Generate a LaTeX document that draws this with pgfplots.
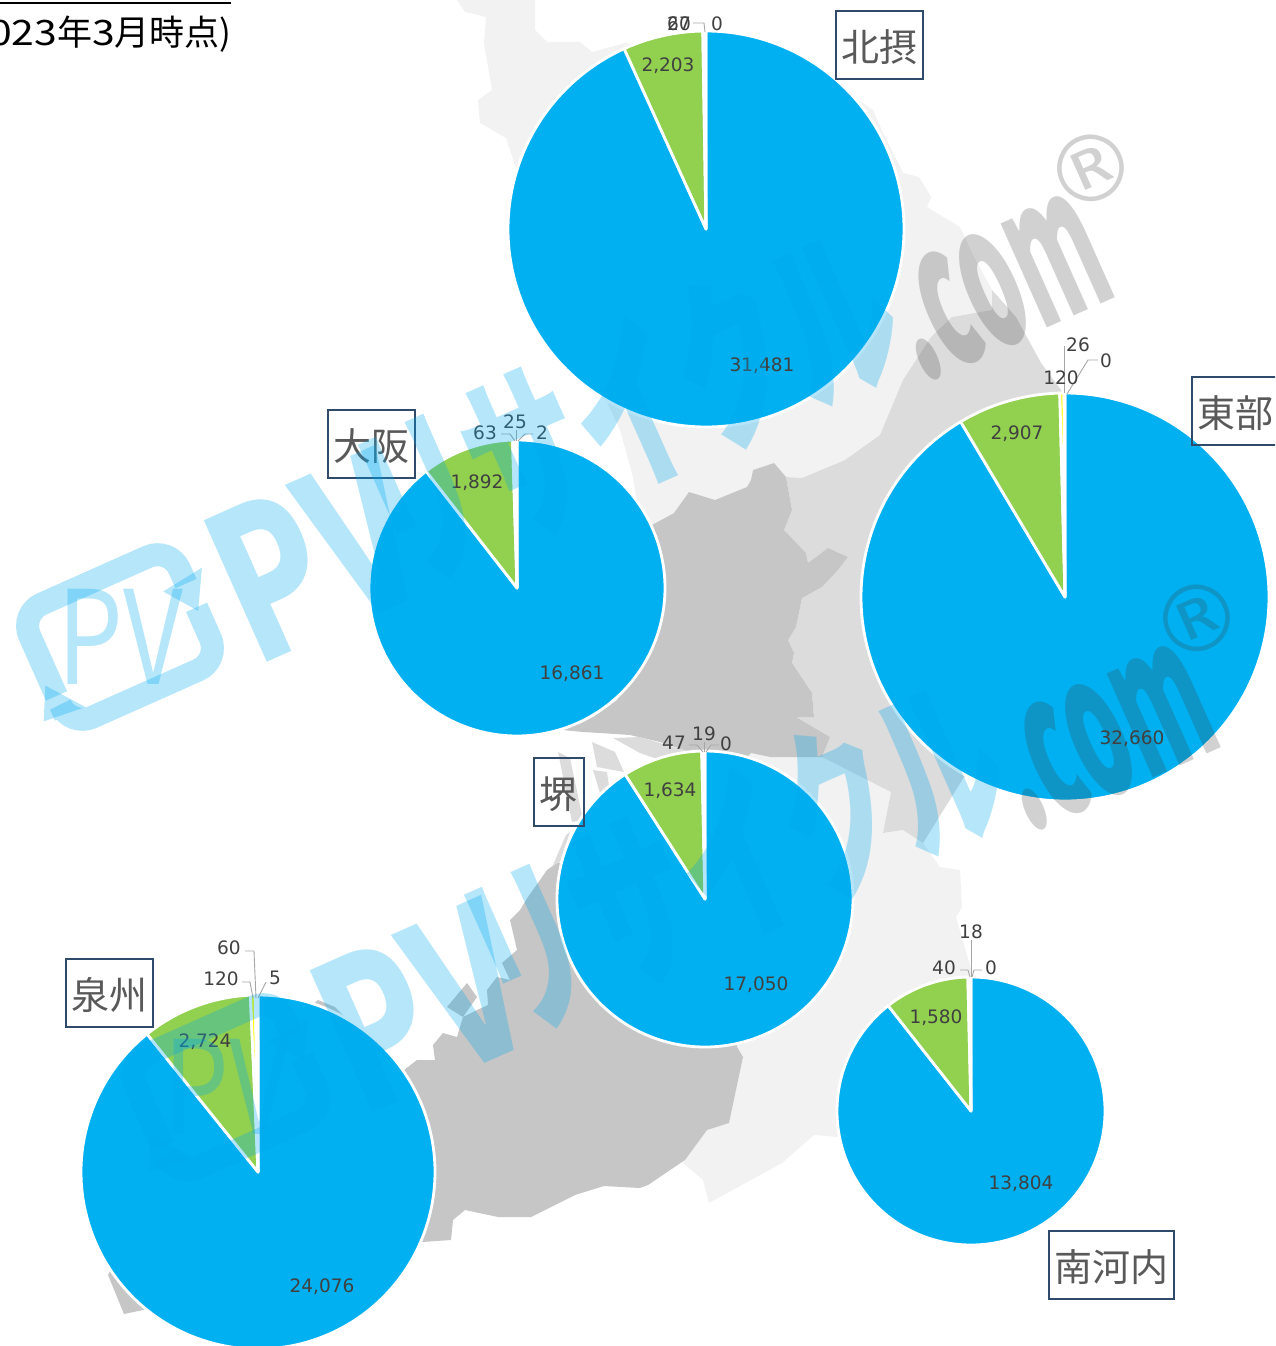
\documentclass[border=0pt]{standalone}
\usepackage{fontspec}
\usepackage{pgfplots}
\pgfplotsset{compat=1.18}
\setmainfont{DejaVu Sans}
\newfontfamily\cjk{Noto Sans CJK JP}
\definecolor{pieblue}{HTML}{00B0F0}
\definecolor{piegreen}{HTML}{92D050}
\definecolor{pieyellow}{HTML}{FFFF00}
\definecolor{piefour}{HTML}{FFFFFF}
\definecolor{mapl}{HTML}{F2F2F2}
\definecolor{mapm}{HTML}{DCDCDC}
\definecolor{mapd}{HTML}{C6C6C6}
\definecolor{lbl}{HTML}{404040}
\definecolor{boxc}{HTML}{2F4A6A}
\definecolor{wmb}{HTML}{00A8EE}
\definecolor{wmg}{HTML}{404040}
\newcount\kk
\newcommand{\slice}[6]{%
  \pgfmathsetmacro\spn{#5-#4}%
  \pgfmathtruncatemacro\nsteps{max(1,ceil(\spn/1.5))}%
  \xdef\pts{(#1,#2)}%
  \kk=0
  \loop
    \pgfmathsetmacro\aa{#4+\spn*(\the\kk/\nsteps)}%
    \pgfmathsetmacro\xx{#1+#3*sin(\aa)}%
    \pgfmathsetmacro\yy{#2-#3*cos(\aa)}%
    \xdef\pts{\pts (\xx,\yy)}%
  \ifnum\kk<\nsteps \advance\kk by 1 \repeat
  \edef\tmp{\noexpand\addplot[fill=#6,draw=white,line width=2.8pt,line join=round] coordinates {\pts} -- cycle;}%
  \tmp
}
% cx cy r  values (clockwise from 12 o'clock)
\newcommand{\angleof}[2]{\pgfmathsetmacro#1{\the\dimexpr\numexpr(#2)*23592960/\tot\relax sp\relax}}
\newcommand{\piechart}[8]{%
  \edef\tot{\the\numexpr#4+#5+#6+#7+#8\relax}%
  \angleof\sA{#4}%
  \angleof\sB{#4+#5}%
  \angleof\sC{#4+#5+#6}%
  \angleof\sD{#4+#5+#6+#7}%
  \slice{#1}{#2}{#3}{0}{\sA}{pieblue}%
  \slice{#1}{#2}{#3}{\sA}{\sB}{piegreen}%
  \slice{#1}{#2}{#3}{\sB}{\sC}{pieyellow}%
  \slice{#1}{#2}{#3}{\sC}{\sD}{piefour}%
  \slice{#1}{#2}{#3}{\sD}{360}{pieblue}%
}
\newcommand{\vl}[3]{\node[text=lbl,font=\fontsize{18.5}{20}\selectfont,inner sep=0pt] at (#1,{#2+1}) {#3};}
\newcommand{\lead}[1]{\addplot[color=gray!70,line width=0.9pt] coordinates {#1};}
\newcommand{\regionbox}[5]{%
  \draw[boxc,line width=1.4pt] (#1,#2) rectangle (#3,#4);
  \node[text=black!65,font=\fontsize{38}{40}\selectfont\cjk,inner sep=0pt] at ({(#1+#3)/2},{(#2+#4)/2+2}) {#5};}
\newcommand{\logo}[2]{%
  \begin{scope}[shift={(#1,#2)},rotate=24]
    \draw[wmb,draw opacity=.29,line width=23pt,rounded corners=24pt,line cap=butt]
      (-82pt,-28pt) -- (-82pt,62pt) -- (82pt,62pt) -- (82pt,22pt);
    \fill[wmb,opacity=.29] (58pt,24pt) -- (103pt,30pt) -- (82pt,-8pt) -- cycle;
    \draw[wmb,draw opacity=.29,line width=23pt,rounded corners=24pt,line cap=butt]
      (82pt,-4pt) -- (82pt,-62pt) -- (-82pt,-62pt) -- (-82pt,-50pt);
    \fill[wmb,opacity=.29] (-60pt,-50pt) -- (-104pt,-46pt) -- (-88pt,-14pt) -- cycle;
    \node[text=wmb,text opacity=.29,inner sep=0pt] at (0pt,0pt) {\scalebox{.8}[1]{\fontsize{130}{130}\selectfont\cjk PV}};
  \end{scope}}
\newcommand{\wmark}[2]{%
  \begin{scope}[shift={(#1 pt,-#2 pt)}]
    \logo{120}{637}
    \node[anchor=base west,rotate=24,text=wmb,text opacity=.29,inner sep=0pt] at (255,668)
      {\scalebox{.72}[1]{\fontsize{208}{208}\selectfont\cjk\bfseries PV}};
    \node[anchor=base west,rotate=24,text=wmb,text opacity=.29,inner sep=0pt] at (399,589)
      {\scalebox{.6}[1]{\fontsize{190}{190}\selectfont\cjk\bfseries リサイクル}};
    \node[anchor=base west,rotate=24,text=wmg,text opacity=.24,inner sep=0pt] at (922,384)
      {\scalebox{.44}[1]{\fontsize{200}{200}\selectfont\cjk\bfseries .com}};
    \node[rotate=24,text=wmg,text opacity=.24,inner sep=0pt] at (1091,168)
      {\fontsize{92}{92}\selectfont ®};
  \end{scope}}
\begin{document}
\begin{tikzpicture}[x=1pt,y=1pt]
\path[use as bounding box] (0,0) rectangle (1275pt,1346pt);
\clip (0,0) rectangle (1275pt,1346pt);
\begin{axis}[at={(0,0)},anchor=south west,scale only axis,width=1275pt,height=1346pt,
  xmin=0,xmax=1275,ymin=0,ymax=1346,y dir=reverse,hide axis,clip=false]
% map
\addplot[fill=mapl,draw=none] coordinates {(457,0)(465,12)(486,17)(484,43)(492,90)(478,100)(480,123)(506,138)(560,300)(620,430)(633,477)(640,523)(652,525)(674,513)(689,492)(715,500)(747,487)(751,480)(753,470)(774,463)(786,477)(802,478)(845,460)(880,435)(903,380)(931,337)(952,317)(992,310)(992,290)(972,253)(960,227)(927,207)(931,197)(919,177)(903,173)(883,133)(873,110)(800,60)(625,43)(592,52)(580,42)(547,42)(535,30)(535,0)} -- cycle;
\addplot[fill=mapl,draw=none] coordinates {(751,753)(770,757)(822,757)(891,792)(883,833)(903,830)(923,843)(940,867)(960,870)(962,907)(956,917)(980,1000)(880,1100)(838,1137)(814,1135)(782,1163)(709,1203)(703,1180)(683,1163)(685,1160)(707,1130)(729,1123)(743,1057)(737,1047)(720,950)(710,800)} -- cycle;
\addplot[fill=mapm,draw=none] coordinates {(786,477)(802,478)(845,460)(880,435)(903,380)(931,337)(952,317)(992,310)(992,290)(1016,317)(1041,363)(1061,390)(1120,600)(1100,700)(964,777)(923,843)(903,830)(883,833)(891,792)(822,757)(830,737)(796,717)(814,717)(812,693)(792,663)(794,653)(788,640)(796,627)(802,598)(822,587)(838,570)(848,557)(828,548)(808,563)(806,553)(784,530)(792,510)} -- cycle;
\addplot[fill=mapd,draw=none] coordinates {(640,523)(652,525)(674,513)(689,492)(715,500)(747,487)(751,480)(753,470)(774,463)(786,477)(792,510)(784,530)(806,553)(808,563)(828,548)(848,557)(838,570)(822,587)(802,598)(796,627)(788,640)(794,653)(792,663)(812,693)(814,717)(796,717)(830,737)(822,757)(770,757)(751,753)(710,800)(737,1047)(743,1057)(729,1123)(707,1130)(685,1160)(648,1185)(640,1188)(604,1186)(575,1195)(531,1217)(498,1217)(465,1210)(453,1220)(451,1240)(422,1242)(300,1300)(143,1310)(124,1314)(108,1275)(200,1100)(318,1000)(335,1007)(400,1073)(417,1060)(435,1060)(433,1045)(443,1033)(457,1037)(463,1017)(477,1010)(488,1005)(487,990)(497,977)(510,980)(502,963)(517,950)(510,920)(520,910)(528,897)(540,880)(547,870)(557,863)(640,860)(660,790)(690,752)(660,742)(630,735)(600,733)(583,732)(563,730)(593,717)(617,700)(640,600)} -- cycle;
\addplot[fill=mapd,draw=none] coordinates {(447,1007)(467,983)(477,997)(463,1017)} -- cycle;
\addplot[fill=mapm,draw=none] coordinates {(613,738)(640,737)(690,752)(660,760)(640,753)} -- cycle;
\addplot[fill=mapm,draw=none] coordinates {(592,742)(615,752)(624,772)(597,767)} -- cycle;
\addplot[fill=mapm,draw=none] coordinates {(593,770)(607,772)(610,793)(600,793)} -- cycle;
\addplot[fill=mapm,draw=none] coordinates {(558,752)(570,758)(583,820)(572,822)} -- cycle;
\addplot[fill=mapm,draw=none] coordinates {(570,832)(560,862)(553,865)(566,835)} -- cycle;
% pies
\piechart{706}{229}{198}{31481}{2203}{60}{27}{0}
\piechart{1065}{597}{204}{32660}{2907}{120}{26}{0}
\piechart{517}{588}{148}{16861}{1892}{63}{25}{2}
\piechart{705}{899}{148}{17050}{1634}{47}{19}{0}
\piechart{258}{1172}{177}{24076}{2724}{120}{60}{5}
\piechart{971}{1111}{134}{13804}{1580}{40}{18}{0}
% leaders
\lead{(693,23)(704,23)(705,32)}
\lead{(1064,346)(1064,393)}
\lead{(1098,360)(1088,360)(1067,394)}
\lead{(501,434)(510,434)(515,441)}
\lead{(516,430)(516,441)}
\lead{(533,434)(525,434)(518,441)}
\lead{(689,745)(697,745)(703,752)}
\lead{(704,742)(704,752)}
\lead{(719,745)(711,745)(706,752)}
\lead{(245,951)(254,951)(256,998)}
\lead{(242,982)(250,982)(253,998)}
\lead{(266,982)(258,998)}
\lead{(971,940)(971,977)}
\lead{(960,970)(968,970)(970,977)}
\lead{(982,970)(974,970)(972,977)}
% value labels
\vl{679}{23}{60}\vl{679}{23}{27}\vl{717}{23}{0}\vl{668}{65}{2,203}\vl{762}{365}{31,481}
\vl{1078}{344}{26}\vl{1106}{360}{0}\vl{1061}{377}{120}\vl{1017}{433}{2,907}\vl{1132}{738}{32,660}
\vl{485}{432}{63}\vl{515}{421}{25}\vl{542}{432}{2}\vl{477}{482}{1,892}\vl{572}{673}{16,861}
\vl{674}{742}{47}\vl{704}{733}{19}\vl{726}{743}{0}\vl{670}{790}{1,634}\vl{756}{984}{17,050}
\vl{229}{947}{60}\vl{221}{978}{120}\vl{275}{977}{5}\vl{205}{1041}{2,724}\vl{322}{1286}{24,076}
\vl{971}{931}{18}\vl{944}{967}{40}\vl{991}{967}{0}\vl{936}{1017}{1,580}\vl{1021}{1183}{13,804}
% region boxes
\regionbox{836}{11}{923}{79}{北摂}
\regionbox{1192}{377}{1278}{445}{東部}
\regionbox{328}{410}{415}{478}{大阪}
\regionbox{534}{758}{584}{826}{堺}
\regionbox{66}{959}{153}{1027}{泉州}
\regionbox{1049}{1231}{1174}{1299}{南河内}
% watermarks
\wmark{0}{0}
\wmark{106}{450}
% title fragment
\draw[black,line width=2.5pt] (0,3) -- (231,3);
\node[anchor=base east,inner sep=0pt,text=black,font=\fontsize{35}{35}\selectfont\cjk] at (232,46) {(\scalebox{1.17}[1]{2023}年\scalebox{1.17}[1]{3}月時点)};
\end{axis}
\end{tikzpicture}
\end{document}
